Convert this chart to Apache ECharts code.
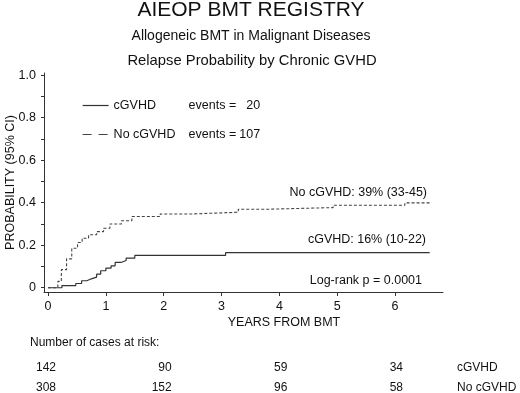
<!DOCTYPE html>
<html>
<head>
<meta charset="utf-8">
<script src="https://cdn.jsdelivr.net/npm/echarts@6/dist/echarts.min.js"></script>
<style>
  html, body { margin: 0; padding: 0; background: #fff; }
  #chart { width: 520px; height: 393px; }
</style>
</head>
<body>
<div id="chart"></div>
<script>
// cumulative relapse probability, step points (years, probability)
var cgvhdYears = [0, 0.24, 0.48, 0.58, 0.67, 0.75, 0.84, 0.91, 1.0, 1.09, 1.16, 1.26, 1.35, 1.5, 3.07, 6.6]
var cgvhdProb = [0, 0.01, 0.02, 0.033, 0.042, 0.05, 0.064, 0.08, 0.092, 0.103, 0.119, 0.128, 0.139, 0.152, 0.165, 0.165]
var noYears = [0, 0.17, 0.23, 0.32, 0.41, 0.51, 0.59, 0.70, 0.84, 0.96, 1.07, 1.27, 1.45, 1.94, 2.48, 3.29, 3.75, 4.93, 6.17, 6.6]
var noProb = [0, 0.03, 0.085, 0.136, 0.186, 0.213, 0.233, 0.249, 0.264, 0.28, 0.30, 0.315, 0.335, 0.347, 0.355, 0.369, 0.377, 0.388, 0.399, 0.399]

var groups = ['cGVHD', 'No cGVHD']
var events = [20, 107]
var xTicks = [0, 1, 2, 3, 4, 5, 6]
var yTicks = [0, 0.1, 0.2, 0.3, 0.4, 0.5, 0.6, 0.7, 0.8, 0.9, 1.0]
var yLabels = [0, 0.2, 0.4, 0.6, 0.8, 1.0]

// number of cases at risk
var riskYears = [0, 2, 4, 6]
var riskCGVHD = [142, 90, 59, 34]
var riskNoCGVHD = [308, 152, 96, 58]

var FONT = '"Liberation Sans", Arial, sans-serif'
var INK = '#111'

function pairs (xs, ys) {
  return xs.map(function (x, i) { return [x, ys[i]] })
}

var chart = echarts.init(document.getElementById('chart'), null, { renderer: 'canvas' })

var option = {
  backgroundColor: '#fff',
  animation: false,
  textStyle: { fontFamily: FONT, color: INK },
  grid: { left: 44, right: 77, top: 73, bottom: 101, containLabel: false, outerBoundsMode: 'none' },
  legend: {
    orient: 'vertical',
    left: 77,
    top: 94,
    itemWidth: 26,
    itemHeight: 14,
    itemGap: 16,
    itemStyle: { opacity: 0 },
    data: [
      { name: 'cGVHD', lineStyle: { type: 'solid', width: 1.2 } },
      { name: 'No cGVHD', lineStyle: { type: [9, 7], width: 1 } }
    ],
    formatter: function (name) {
      var n = events[groups.indexOf(name)]
      return '{a|' + name + '}{b|events =}{c|' + n + '}'
    },
    textStyle: {
      fontFamily: FONT,
      fontSize: 12.5,
      color: INK,
      rich: {
        a: { fontFamily: FONT, fontSize: 12.5, color: INK, width: 75 },
        b: { fontFamily: FONT, fontSize: 12.5, color: INK },
        c: { fontFamily: FONT, fontSize: 12.5, color: INK, width: 24, align: 'right' }
      }
    }
  },
  xAxis: {
    type: 'value',
    min: -0.07,
    max: 6.83,
    axisLine: { show: true, onZero: false, lineStyle: { color: '#333', width: 1 } },
    axisTick: { show: true, inside: false, length: 4, customValues: xTicks, lineStyle: { color: '#333' } },
    axisLabel: { customValues: xTicks, margin: 8, fontFamily: FONT, fontSize: 12.5, color: INK },
    splitLine: { show: false }
  },
  yAxis: {
    type: 'value',
    min: -0.02,
    max: 1.01,
    name: 'PROBABILITY (95% CI)',
    nameLocation: 'middle',
    nameGap: 27,
    nameMoveOverlap: false,
    nameTextStyle: { fontFamily: FONT, fontSize: 12.5, color: INK },
    axisLine: { show: true, onZero: false, lineStyle: { color: '#333', width: 1 } },
    axisTick: { show: true, inside: false, length: 3, customValues: yTicks, lineStyle: { color: '#333' } },
    axisLabel: {
      customValues: yLabels,
      margin: 8,
      fontFamily: FONT,
      fontSize: 12.5,
      color: INK,
      formatter: function (v) { return v === 0 ? '0' : v.toFixed(1) }
    },
    splitLine: { show: false }
  },
  series: [
    {
      name: 'cGVHD',
      type: 'line',
      step: 'end',
      symbol: 'none',
      color: '#333',
      lineStyle: { color: '#333', width: 1.2, type: 'solid' },
      data: pairs(cgvhdYears, cgvhdProb)
    },
    {
      name: 'No cGVHD',
      type: 'line',
      step: 'end',
      symbol: 'none',
      color: '#333',
      lineStyle: { color: '#444', width: 1.1, type: [3, 2] },
      data: pairs(noYears, noProb)
    }
  ]
}

chart.setOption(option)

// titles, annotations and the at-risk table
var graphics = [
  { type: 'text', x: 251, y: 10, style: { text: 'AIEOP BMT REGISTRY', font: '21px ' + FONT, fill: INK, align: 'center', verticalAlign: 'middle' } },
  { type: 'text', x: 251, y: 36, style: { text: 'Allogeneic BMT in Malignant Diseases', font: '14px ' + FONT, fill: INK, align: 'center', verticalAlign: 'middle' } },
  { type: 'text', x: 252, y: 61, style: { text: 'Relapse Probability by Chronic GVHD', font: '14.8px ' + FONT, fill: INK, align: 'center', verticalAlign: 'middle' } },
  { type: 'text', x: 427, y: 193, style: { text: 'No cGVHD: 39% (33-45)', font: '12.5px ' + FONT, fill: INK, align: 'right', verticalAlign: 'middle' } },
  { type: 'text', x: 426, y: 240, style: { text: 'cGVHD: 16% (10-22)', font: '12.5px ' + FONT, fill: INK, align: 'right', verticalAlign: 'middle' } },
  { type: 'text', x: 422, y: 281, style: { text: 'Log-rank p = 0.0001', font: '12.5px ' + FONT, fill: INK, align: 'right', verticalAlign: 'middle' } },
  { type: 'text', x: 284, y: 323, style: { text: 'YEARS FROM BMT', font: '12.5px ' + FONT, fill: INK, align: 'center', verticalAlign: 'middle' } },
  { type: 'text', x: 30, y: 343, style: { text: 'Number of cases at risk:', font: '12px ' + FONT, fill: INK, align: 'left', verticalAlign: 'middle' } },
  { type: 'text', x: 457, y: 368, style: { text: groups[0], font: '12px ' + FONT, fill: INK, align: 'left', verticalAlign: 'middle' } },
  { type: 'text', x: 457, y: 388, style: { text: groups[1], font: '12px ' + FONT, fill: INK, align: 'left', verticalAlign: 'middle' } }
]

riskYears.forEach(function (t, i) {
  var px = chart.convertToPixel({ xAxisIndex: 0 }, t) + 8
  graphics.push({ type: 'text', x: px, y: 368, style: { text: String(riskCGVHD[i]), font: '12px ' + FONT, fill: INK, align: 'right', verticalAlign: 'middle' } })
  graphics.push({ type: 'text', x: px, y: 388, style: { text: String(riskNoCGVHD[i]), font: '12px ' + FONT, fill: INK, align: 'right', verticalAlign: 'middle' } })
})

chart.setOption({ graphic: graphics })
</script>
</body>
</html>
